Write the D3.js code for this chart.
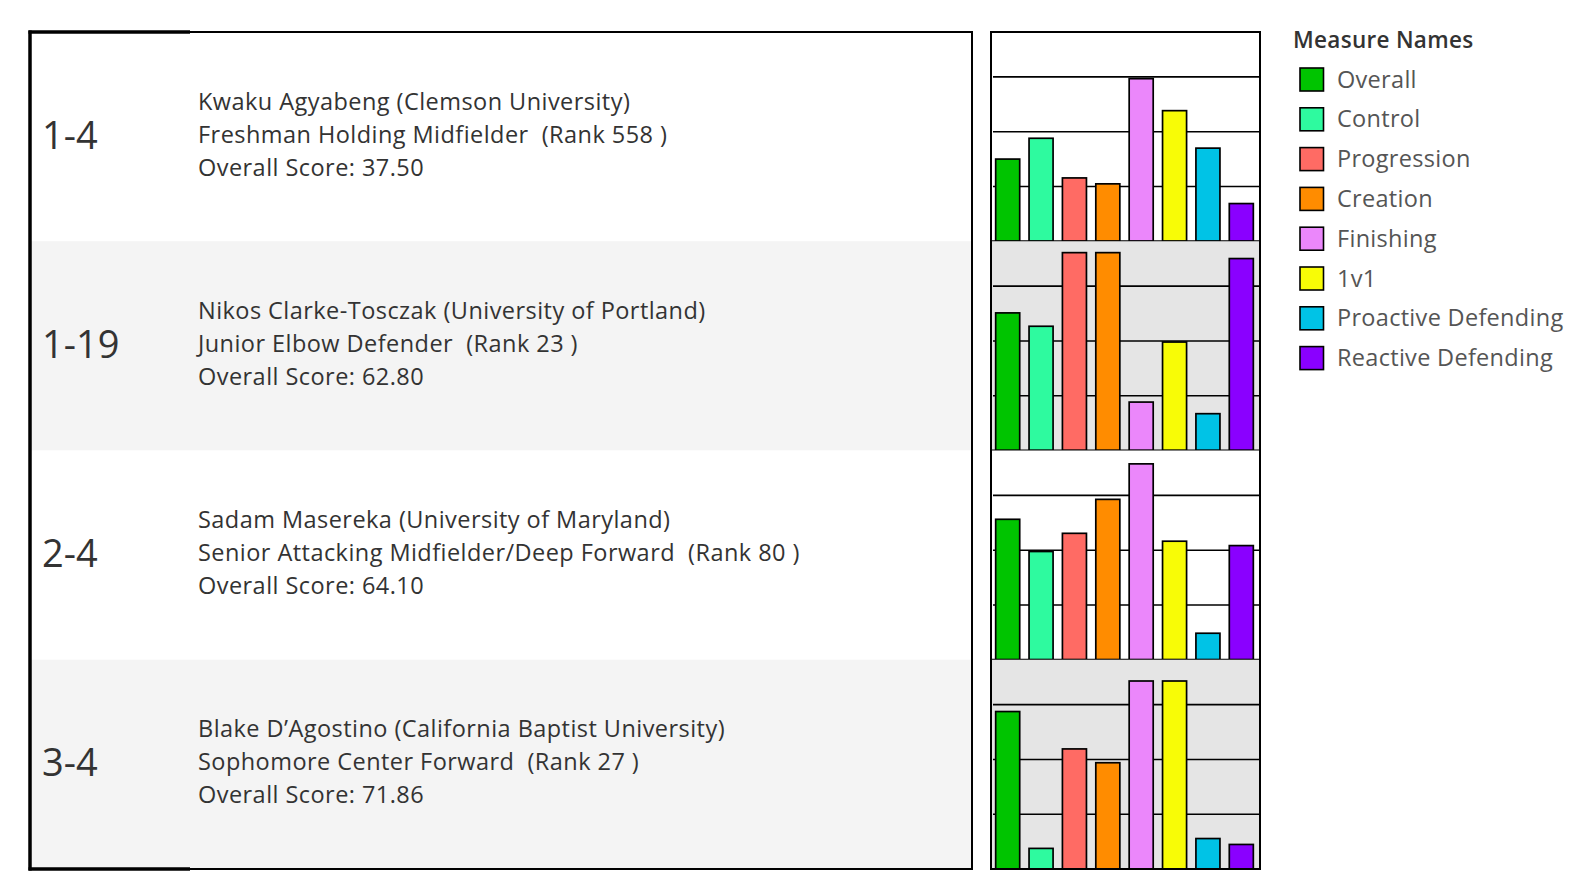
<!DOCTYPE html>
<html>
<head>
<meta charset="utf-8">
<script src="https://cdn.jsdelivr.net/npm/d3@7"></script>
<style>
  body { margin: 0; background: #fff; }
  text { font-family: "Open Sans", "Noto Sans", sans-serif; }
</style>
</head>
<body>
<svg id="chart"></svg>
<script>
// measures shown as bars and in the legend
const measures = ['Overall', 'Control', 'Progression', 'Creation', 'Finishing', '1v1', 'Proactive Defending', 'Reactive Defending']
const colors = ['#00c400', '#2efa9f', '#ff6b64', '#ff8c00', '#eb87fb', '#f8fc06', '#00c3e6', '#8a00ff']

// one entry per row
const pairings = ['1-4', '1-19', '2-4', '3-4']
const names = [
    'Kwaku Agyabeng (Clemson University)',
    'Nikos Clarke-Tosczak (University of Portland)',
    'Sadam Masereka (University of Maryland)',
    'Blake D\u2019Agostino (California Baptist University)'
]
const roles = [
    'Freshman Holding Midfielder  (Rank 558 )',
    'Junior Elbow Defender  (Rank 23 )',
    'Senior Attacking Midfielder/Deep Forward  (Rank 80 )',
    'Sophomore Center Forward  (Rank 27 )'
]
const overallScores = [37.50, 62.80, 64.10, 71.86]

// measure values per player (same order as measures)
const player1 = [37.50, 47.0, 28.9, 26.2, 74.2, 59.6, 42.5, 17.2]
const player2 = [62.80, 56.7, 90.3, 90.3, 22.1, 49.5, 16.8, 87.6]
const player3 = [64.10, 49.4, 57.7, 73.2, 89.4, 54.1, 12.1, 52.1]
const player4 = [71.86, 9.4, 54.8, 48.5, 85.8, 85.8, 13.9, 11.2]
const values = [player1, player2, player3, player4]

const gridTicks = [25, 50, 75]

const width = 1590
const height = 892

const svg = d3.select('#chart')
    .attr('width', width)
    .attr('height', height)

// layout
const topY = 32
const bottomY = 869
const tableLeft = 30
const tableRight = 972
const panelLeft = 991
const panelRight = 1260
const rowH = (bottomY - topY) / pairings.length

const x = d3.scaleBand()
    .domain(measures)
    .range([panelLeft, 1258])
    .paddingInner(0.28)
    .paddingOuter(0.14)

const color = d3.scaleOrdinal(measures, colors)

// ---- left table ----
const table = svg.append('g')

table.selectAll('rect.row')
    .data(pairings)
    .join('rect')
    .attr('class', 'row')
    .attr('x', tableLeft)
    .attr('y', (d, i) => topY + i * rowH)
    .attr('width', tableRight - tableLeft)
    .attr('height', rowH)
    .attr('fill', (d, i) => i % 2 ? '#f4f4f4' : '#fff')

const rowText = table.selectAll('g.rowtext')
    .data(pairings)
    .join('g')
    .attr('class', 'rowtext')
    .attr('transform', (d, i) => `translate(0,${topY + i * rowH + rowH / 2 - 1})`)

rowText.append('text')
    .attr('x', 42)
    .attr('dy', '0.34em')
    .attr('font-size', 38)
    .attr('font-weight', 500)
    .attr('fill', '#333')
    .text(d => d)

const lines = [
    (d, i) => names[i],
    (d, i) => roles[i],
    (d, i) => 'Overall Score: ' + overallScores[i].toFixed(2)
]

lines.forEach((fn, k) => {
    rowText.append('text')
        .attr('x', 198)
        .attr('y', (k - 1) * 33)
        .attr('dy', '0.3em')
        .attr('font-size', 23.5)
        .attr('font-weight', 500)
        .attr('letter-spacing', 0.45)
        .attr('fill', '#333')
        .style('white-space', 'pre')
        .text(fn)
})

// table borders
table.append('rect')
    .attr('x', tableLeft)
    .attr('y', topY)
    .attr('width', tableRight - tableLeft)
    .attr('height', bottomY - topY)
    .attr('fill', 'none')
    .attr('stroke', '#000')
    .attr('stroke-width', 2)
table.append('line')
    .attr('x1', tableLeft).attr('x2', tableLeft)
    .attr('y1', topY - 1.5).attr('y2', bottomY + 1.5)
    .attr('stroke', '#000').attr('stroke-width', 3.5)
table.selectAll('line.thick')
    .data([topY, bottomY])
    .join('line')
    .attr('class', 'thick')
    .attr('x1', tableLeft - 1.5).attr('x2', 190)
    .attr('y1', d => d).attr('y2', d => d)
    .attr('stroke', '#000').attr('stroke-width', 3.5)

// ---- bar panel ----
const panel = svg.append('g')

values.forEach((vals, i) => {
    const rowTop = topY + i * rowH
    const rowBottom = rowTop + rowH
    const y = d3.scaleLinear().domain([0, 95.5]).range([rowBottom, rowTop])

    const g = panel.append('g')

    g.append('rect')
        .attr('x', panelLeft)
        .attr('y', rowTop)
        .attr('width', panelRight - panelLeft)
        .attr('height', rowH)
        .attr('fill', i % 2 ? '#e5e5e5' : '#fff')

    g.selectAll('line.grid')
        .data(gridTicks)
        .join('line')
        .attr('class', 'grid')
        .attr('x1', panelLeft + 2)
        .attr('x2', panelRight)
        .attr('y1', d => y(d))
        .attr('y2', d => y(d))
        .attr('stroke', '#000')
        .attr('stroke-width', 1.6)

    g.selectAll('rect.bar')
        .data(vals.map((v, j) => ({ key: measures[j], value: v })))
        .join('rect')
        .attr('class', 'bar')
        .attr('x', d => x(d.key))
        .attr('width', x.bandwidth())
        .attr('y', d => y(d.value))
        .attr('height', d => y(0) - y(d.value))
        .attr('fill', d => color(d.key))
        .attr('stroke', '#000')
        .attr('stroke-width', 1.7)

    g.append('line')
        .attr('x1', panelLeft).attr('x2', panelRight)
        .attr('y1', rowBottom).attr('y2', rowBottom)
        .attr('stroke', '#000').attr('stroke-width', 1.8)
})

panel.append('rect')
    .attr('x', panelLeft)
    .attr('y', topY)
    .attr('width', panelRight - panelLeft)
    .attr('height', bottomY - topY)
    .attr('fill', 'none')
    .attr('stroke', '#000')
    .attr('stroke-width', 2)

// ---- legend ----
const legend = svg.append('g')

legend.append('text')
    .attr('x', 1293)
    .attr('y', 40)
    .attr('dy', '0.34em')
    .attr('font-size', 22.5)
    .attr('font-weight', 600)
    .attr('letter-spacing', 0.3)
    .attr('fill', '#333')
    .text('Measure Names')

const item = legend.selectAll('g.item')
    .data(measures)
    .join('g')
    .attr('class', 'item')
    .attr('transform', (d, i) => `translate(1300,${79.5 + i * 39.8})`)

item.append('rect')
    .attr('x', 0)
    .attr('y', -11.5)
    .attr('width', 23.5)
    .attr('height', 23)
    .attr('fill', d => color(d))
    .attr('stroke', '#000')
    .attr('stroke-width', 1.6)

item.append('text')
    .attr('x', 37)
    .attr('dy', '0.34em')
    .attr('font-size', 23.5)
    .attr('letter-spacing', 0.3)
    .attr('fill', '#555')
    .text(d => d)
</script>
</body>
</html>
